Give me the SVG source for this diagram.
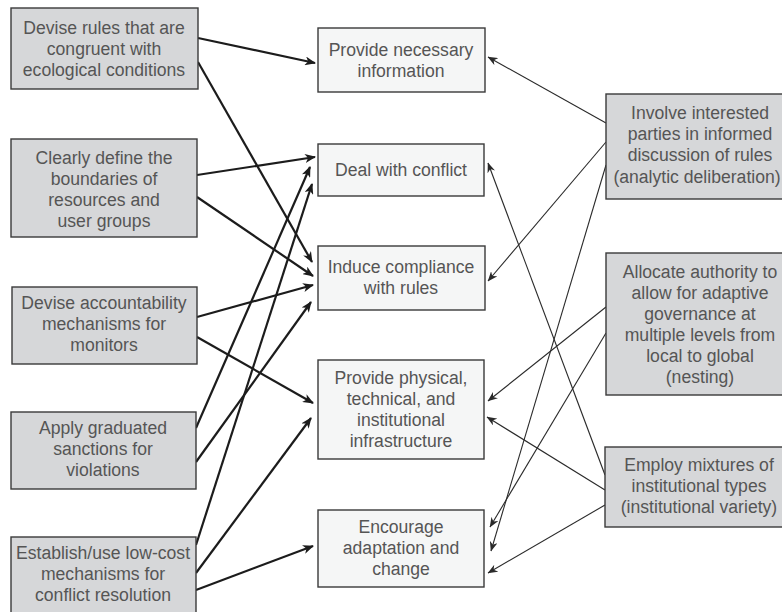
<svg xmlns="http://www.w3.org/2000/svg" width="782" height="612" viewBox="0 0 782 612">
<style>
.side{fill:#d6d7d9;stroke:#3a3a3a;stroke-width:1.4}
.mid{fill:#f5f6f6;stroke:#3a3a3a;stroke-width:1.4}
text{font-family:"Liberation Sans",Arial,Helvetica,sans-serif;font-size:17.6px;fill:#555555;text-anchor:middle}
.thick{stroke:#1c1c1c;stroke-width:2.2;fill:none;marker-end:url(#ah)}
.thin{stroke:#2a2a2a;stroke-width:1.1;fill:none;marker-end:url(#at)}
</style>
<defs>
<marker id="ah" markerUnits="userSpaceOnUse" markerWidth="11" markerHeight="9" viewBox="0 0 11 9" refX="10" refY="4.5" orient="auto">
<path d="M0,0 L11,4.5 L0,9 L3,4.5 z" fill="#1c1c1c"/>
</marker>
<marker id="at" markerUnits="userSpaceOnUse" markerWidth="10" markerHeight="8" viewBox="0 0 10 8" refX="9.5" refY="4" orient="auto">
<path d="M0,0 L10,4 L0,8 L3,4 z" fill="#2a2a2a"/>
</marker>
</defs>
<rect width="782" height="612" fill="#ffffff"/>

<g id="connectors">
<line class="thick" x1="198" y1="38" x2="315" y2="63"/>
<line class="thick" x1="198" y1="62" x2="312" y2="262"/>
<line class="thick" x1="197" y1="175" x2="315" y2="157"/>
<line class="thick" x1="197" y1="197" x2="313" y2="276"/>
<line class="thick" x1="197" y1="317" x2="313" y2="285"/>
<line class="thick" x1="197" y1="337" x2="313" y2="403"/>
<line class="thick" x1="196" y1="428" x2="310" y2="167"/>
<line class="thick" x1="196" y1="462" x2="311" y2="302"/>
<line class="thick" x1="196" y1="545" x2="312" y2="184"/>
<line class="thick" x1="196" y1="573" x2="311" y2="418"/>
<line class="thick" x1="196" y1="590" x2="313" y2="546"/>
<line class="thin" x1="606" y1="123" x2="488" y2="57"/>
<line class="thin" x1="606" y1="142" x2="488" y2="281"/>
<line class="thin" x1="606" y1="165" x2="491" y2="551"/>
<line class="thin" x1="606" y1="307" x2="488" y2="401"/>
<line class="thin" x1="606" y1="333" x2="490" y2="527"/>
<line class="thin" x1="605" y1="475" x2="488" y2="163"/>
<line class="thin" x1="605" y1="490" x2="487" y2="417"/>
<line class="thin" x1="605" y1="505" x2="488" y2="573"/>
</g>

<g id="devise-rules">
<rect class="side" x="11" y="8" width="187" height="81"/>
<text x="104" y="34">Devise rules that are</text>
<text x="104" y="55">congruent with</text>
<text x="104" y="76">ecological conditions</text>
</g>
<g id="clearly-define">
<rect class="side" x="11" y="139" width="186" height="98"/>
<text x="104" y="164">Clearly define the</text>
<text x="104" y="185">boundaries of</text>
<text x="104" y="206">resources and</text>
<text x="104" y="227">user groups</text>
</g>
<g id="accountability">
<rect class="side" x="12" y="287" width="185" height="77"/>
<text x="104" y="309">Devise accountability</text>
<text x="104" y="330">mechanisms for</text>
<text x="104" y="351">monitors</text>
</g>
<g id="sanctions">
<rect class="side" x="11" y="412" width="185" height="77"/>
<text x="103" y="434">Apply graduated</text>
<text x="103" y="455">sanctions for</text>
<text x="103" y="476">violations</text>
</g>
<g id="conflict-resolution">
<rect class="side" x="11" y="537" width="185" height="80"/>
<text x="103" y="559">Establish/use low-cost</text>
<text x="103" y="580">mechanisms for</text>
<text x="103" y="601">conflict resolution</text>
</g>

<g id="provide-information">
<rect class="mid" x="318" y="28" width="167" height="64"/>
<text x="401" y="56">Provide necessary</text>
<text x="401" y="77">information</text>
</g>
<g id="deal-conflict">
<rect class="mid" x="318" y="144" width="166" height="52"/>
<text x="401" y="176">Deal with conflict</text>
</g>
<g id="induce-compliance">
<rect class="mid" x="318" y="246" width="167" height="64"/>
<text x="401" y="273">Induce compliance</text>
<text x="401" y="294">with rules</text>
</g>
<g id="infrastructure">
<rect class="mid" x="318" y="360" width="166" height="99"/>
<text x="401" y="384">Provide physical,</text>
<text x="401" y="405">technical, and</text>
<text x="401" y="426">institutional</text>
<text x="401" y="447">infrastructure</text>
</g>
<g id="adaptation">
<rect class="mid" x="318" y="510" width="166" height="77"/>
<text x="401" y="533">Encourage</text>
<text x="401" y="554">adaptation and</text>
<text x="401" y="575">change</text>
</g>

<g id="analytic-deliberation">
<rect class="side" x="606" y="94" width="200" height="105"/>
<text x="700" y="119">Involve interested</text>
<text x="700" y="140">parties in informed</text>
<text x="700" y="161">discussion of rules</text>
<text x="697" y="183">(analytic deliberation)</text>
</g>
<g id="nesting">
<rect class="side" x="606" y="253" width="200" height="142"/>
<text x="700" y="278">Allocate authority to</text>
<text x="700" y="299">allow for adaptive</text>
<text x="700" y="320">governance at</text>
<text x="700" y="341">multiple levels from</text>
<text x="700" y="362">local to global</text>
<text x="700" y="383">(nesting)</text>
</g>
<g id="institutional-variety">
<rect class="side" x="605" y="447" width="200" height="80"/>
<text x="699" y="471">Employ mixtures of</text>
<text x="699" y="492">institutional types</text>
<text x="699" y="513">(institutional variety)</text>
</g>
</svg>
